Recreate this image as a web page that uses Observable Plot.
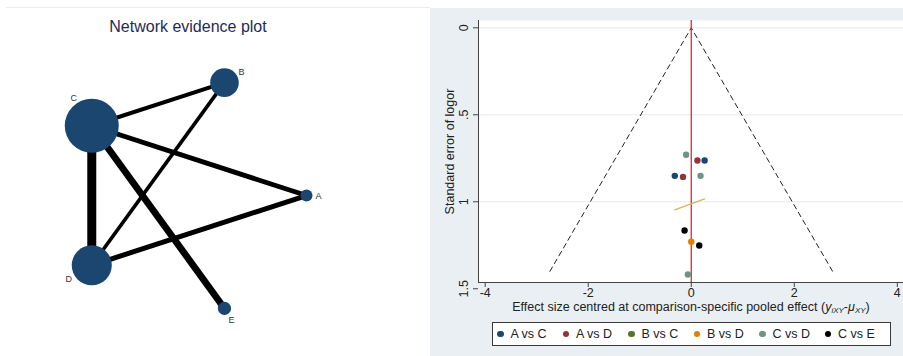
<!DOCTYPE html>
<html><head><meta charset="utf-8">
<script src="https://cdn.jsdelivr.net/npm/d3@7"></script>
<script src="https://cdn.jsdelivr.net/npm/@observablehq/plot@0.6"></script>
<style>
body{margin:0;width:903px;height:356px;overflow:hidden;background:#fff;font-family:"Liberation Sans",Arial,sans-serif;position:relative}
#left{position:absolute;left:0;top:0;width:430px;height:356px}
#topline{position:absolute;left:6px;top:7px;width:424px;height:0;border-top:1px solid #eeeeee}
#title{position:absolute;left:0;top:18px;width:376px;text-align:center;font-size:16px;color:#1f2b55}
#right{position:absolute;left:430px;top:8px;width:473px;height:348px;background:#e9eff2}
#funnel{position:absolute;left:0;top:0}
#xtitle{position:absolute;left:61px;top:292px;width:400px;text-align:center;font-size:12.5px;color:#222;white-space:nowrap}
#xtitle sub{font-size:8px;vertical-align:-2px;font-style:italic}
#legend{position:absolute;left:62px;top:314px;width:399px;height:24px;box-sizing:border-box;border:1px solid #3a3a3a;background:#fff;display:flex;align-items:center;padding-left:4px}
.item{width:66.8px;display:flex;align-items:center;font-size:12.5px;color:#222;white-space:nowrap}
.sw{width:6.5px;height:6.5px;border-radius:50%;margin-right:7px;flex:none}
</style></head><body>
<div id="left"><div id="topline"></div><div id="net"></div><div id="title">Network evidence plot</div></div>
<div id="right"><div id="funnel"></div>
<div id="xtitle">Effect size centred at comparison-specific pooled effect (<i>y</i><sub>iXY</sub>-<i>μ</i><sub>XY</sub>)</div>
<div id="legend"></div></div>
<script>
// ---------- network data ----------
const nodeNames = ["A", "B", "C", "D", "E"];
const nodeSize = [5, 28, 100, 55, 6];
const edgeFrom = ["A", "A", "B", "B", "C", "C"];
const edgeTo   = ["C", "D", "C", "D", "D", "E"];
const edgeWeight = [4.8, 5, 4, 3.6, 9, 6.8];

// ---------- funnel data ----------
const comparisons = ["A vs C", "A vs D", "B vs C", "B vs D", "C vs D", "C vs E"];
const studyComparison = ["C vs D", "A vs D", "A vs C", "A vs C", "A vs D", "C vs D", "C vs E", "B vs D", "C vs E", "C vs D"];
const studyEffect = [-0.10, 0.12, 0.26, -0.32, -0.16, 0.18, -0.13, 0.00, 0.155, -0.065];
const studySE     = [0.730, 0.763, 0.763, 0.851, 0.857, 0.851, 1.165, 1.230, 1.251, 1.418];
const lineEffect = [-0.32, 0.26];
const lineSE = [1.046, 0.983];
const funnelMaxSE = 1.4;
const zCrit = 1.96;
const xTicks = [-4, -2, 0, 2, 4];
const yTicks = [0, 0.5, 1, 1.5];

const compColors = ["#1a476f", "#90353b", "#55752f", "#e37e00", "#6e9488", "#000000"];
const FONT = '"Liberation Sans", Arial, sans-serif';

// ---------- network plot (circular layout) ----------
const nodes = nodeNames.map((n, i) => ({
  name: n, size: nodeSize[i],
  x: Math.cos(i * 2 * Math.PI / nodeNames.length),
  y: Math.sin(i * 2 * Math.PI / nodeNames.length)
}));
const byName = Object.fromEntries(nodes.map(d => [d.name, d]));
const edges = edgeFrom.map((f, i) => ({a: byName[f], b: byName[edgeTo[i]], w: edgeWeight[i]}));
const labelOffset = {A: [12, 1], B: [17, -11], C: [-18, -28], D: [-23, 14], E: [7, 12]};

const net = Plot.plot({
  width: 430, height: 356,
  marginTop: 0, marginBottom: 0, marginLeft: 0, marginRight: 0,
  x: {domain: [-1.578, 2.045], axis: null},
  y: {domain: [-1.356, 1.643], axis: null},
  r: {type: "sqrt", domain: [0, d3.max(nodeSize)], range: [0, 27]},
  style: {fontFamily: FONT, background: "transparent"},
  marks: [
    Plot.link(edges, {x1: d => d.a.x, y1: d => d.a.y, x2: d => d.b.x, y2: d => d.b.y,
      stroke: "#000", strokeWidth: d => d.w, strokeLinecap: "butt"}),
    Plot.dot(nodes, {x: "x", y: "y", r: "size", fill: "#1a4670", stroke: "none"}),
    ...nodes.map(n => Plot.text([n], {x: "x", y: "y", text: "name",
      dx: labelOffset[n.name][0], dy: labelOffset[n.name][1], fontSize: 9, fill: "#333"}))
  ]
});
document.getElementById("net").appendChild(net);

// ---------- funnel plot ----------
const X0 = -4.13, X1 = 4.12, Y0 = -0.042, Y1 = 1.464;
const studies = studyEffect.map((e, i) => ({effect: e, se: studySE[i], comp: studyComparison[i]}));
const funnel = [
  {x: -zCrit * funnelMaxSE, y: funnelMaxSE},
  {x: 0, y: 0},
  {x: zCrit * funnelMaxSE, y: funnelMaxSE}
];
const fitLine = lineEffect.map((e, i) => ({x: e, y: lineSE[i]}));

const fp = Plot.plot({
  width: 473, height: 292,
  marginLeft: 48, marginRight: 0, marginTop: 12, marginBottom: 18,
  x: {domain: [X0, X1]},
  y: {domain: [Y0, Y1], reverse: true},
  color: {domain: comparisons, range: compColors},
  style: {fontFamily: FONT, fontSize: "12.5px", color: "#222", background: "transparent", overflow: "visible"},
  marks: [
    Plot.frame({fill: "#fff", stroke: "none"}),
    Plot.ruleY([0, 0.5, 1], {stroke: "#e3ecee", strokeWidth: 1}),
    Plot.line(funnel, {x: "x", y: "y", stroke: "#222", strokeWidth: 1, strokeDasharray: "5,4"}),
    Plot.ruleX([0], {stroke: "#e8262c", strokeWidth: 1.3}),
    Plot.line(fitLine, {x: "x", y: "y", stroke: "#cdb862", strokeWidth: 1.3}),
    Plot.dot(studies, {x: "effect", y: "se", fill: "comp", r: 3.2, stroke: "none"}),
    Plot.ruleX([X0], {stroke: "#444", strokeWidth: 1}),
    Plot.ruleY([Y1], {stroke: "#444", strokeWidth: 1}),
    Plot.axisX({ticks: xTicks, tickSize: 5, tickPadding: 1, tickFormat: d => String(d), label: null, stroke: "#444"}),
    Plot.axisY({ticks: yTicks, tickSize: 5, tickPadding: 6, tickRotate: -90,
      tickFormat: d => d === 0 ? "0" : String(d).replace(/^0/, ""), label: null, stroke: "#444"}),
    Plot.text(["Standard error of logor"], {frameAnchor: "left", textAnchor: "middle", dx: -29, rotate: -90, fontSize: 12.5, fill: "#222"})
  ]
});
document.getElementById("funnel").appendChild(fp);

// ---------- legend ----------
const lg = document.getElementById("legend");
comparisons.forEach((c, i) => {
  const it = document.createElement("div"); it.className = "item";
  const sw = document.createElement("span"); sw.className = "sw"; sw.style.background = compColors[i];
  const t = document.createElement("span"); t.textContent = c;
  it.appendChild(sw); it.appendChild(t); lg.appendChild(it);
});
</script>
</body></html>
